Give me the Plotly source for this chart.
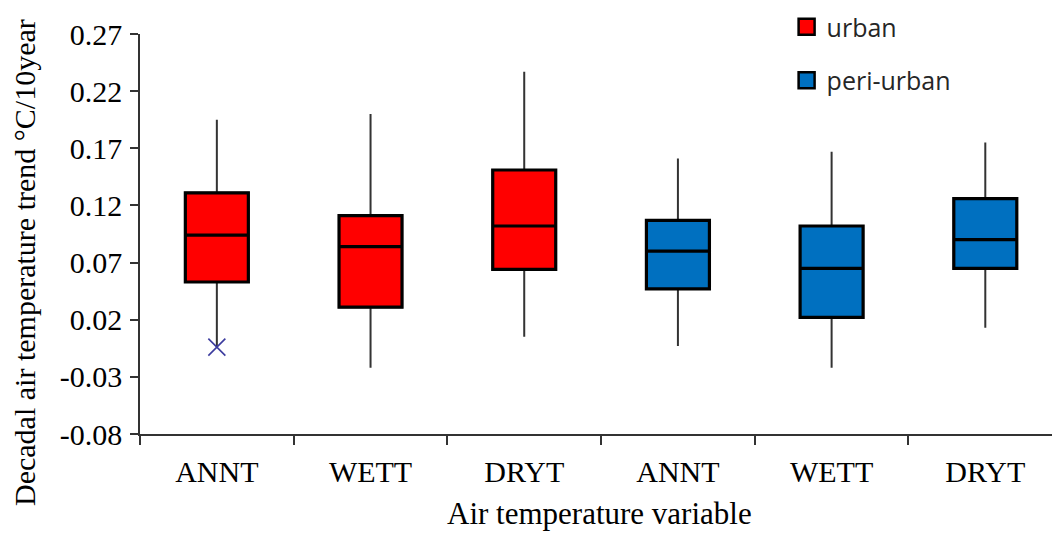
import plotly.graph_objects as go

# ---- data ----
categories = ["ANNT", "WETT", "DRYT", "ANNT", "WETT", "DRYT"]
urban_pos = [0, 1, 2]
peri_pos = [3, 4, 5]

urban_upper = [0.195, 0.200, 0.237]
urban_q3 = [0.131, 0.111, 0.151]
urban_median = [0.094, 0.084, 0.102]
urban_q1 = [0.053, 0.031, 0.064]
urban_lower = [-0.004, -0.022, 0.005]

peri_upper = [0.161, 0.167, 0.175]
peri_q3 = [0.107, 0.102, 0.126]
peri_median = [0.080, 0.065, 0.090]
peri_q1 = [0.047, 0.022, 0.065]
peri_lower = [-0.003, -0.022, 0.013]

outlier_x = [0]
outlier_y = [-0.004]

y_tickvals = [-0.08, -0.03, 0.02, 0.07, 0.12, 0.17, 0.22, 0.27]
y_ticktext = ["-0.08", "-0.03", "0.02", "0.07", "0.12", "0.17", "0.22", "0.27"]

series = [
    ("urban", urban_pos, urban_lower, urban_q1, urban_median, urban_q3, urban_upper, "#FF0000"),
    ("peri-urban", peri_pos, peri_lower, peri_q1, peri_median, peri_q3, peri_upper, "#0070C0"),
]

fig = go.Figure()
BOXW = 0.41
for name, pos, lo, q1, med, q3, up, col in series:
    # whiskers (thin) + filled box
    fig.add_trace(go.Box(
        x=pos, lowerfence=lo, q1=q1, median=med, q3=q3, upperfence=up,
        fillcolor=col, line=dict(color="#333333", width=2), whiskerwidth=0,
        width=BOXW, boxpoints=False, showlegend=False, hoverinfo="skip",
    ))
    # thick box outline on top
    fig.add_trace(go.Box(
        x=pos, lowerfence=q1, q1=q1, median=med, q3=q3, upperfence=q3,
        fillcolor=col, line=dict(color="#000000", width=3.2), whiskerwidth=0,
        width=BOXW, boxpoints=False, showlegend=False, hoverinfo="skip",
    ))
    # legend entry
    fig.add_trace(go.Scatter(
        x=[None], y=[None], mode="markers", name=name, legendgroup=name,
        marker=dict(symbol="square", size=16, color=col, line=dict(color="#000000", width=2.5)),
    ))

fig.add_trace(go.Scatter(
    x=outlier_x, y=outlier_y, mode="markers", showlegend=False, hoverinfo="skip",
    marker=dict(symbol="x-thin", size=17, line=dict(color="#3b3b9e", width=1.6)),
))

serif = "Liberation Serif"
fig.update_layout(
    width=1052, height=533,
    margin=dict(l=140, r=0, t=34, b=99),
    paper_bgcolor="white", plot_bgcolor="white",
    boxmode="overlay",
    showlegend=True,
    legend=dict(x=0.709, y=1.075, xanchor="left", yanchor="top",
                font=dict(family="Open Sans", size=25, color="#262626"),
                tracegroupgap=18, bgcolor="rgba(0,0,0,0)"),
    xaxis=dict(
        range=[-0.5, 5.434], tickvals=[0, 1, 2, 3, 4, 5], ticktext=categories,
        ticks="", showgrid=False, zeroline=False,
        showline=True, linecolor="#333333", linewidth=1.5,
        tickfont=dict(family=serif, size=30, color="#000000"),
        ticklabelstandoff=10,
        minor=dict(tick0=-0.5, dtick=1, ticks="outside", ticklen=9,
                   tickcolor="#333333", tickwidth=1.5, showgrid=False),
    ),
    yaxis=dict(
        range=[-0.08, 0.27], tickvals=y_tickvals, ticktext=y_ticktext,
        ticks="outside", ticklen=8, tickcolor="#333333", tickwidth=1.5,
        showgrid=False, zeroline=False,
        showline=True, linecolor="#333333", linewidth=1.5,
        tickfont=dict(family=serif, size=30, color="#000000"),
        ticklabelstandoff=2,
    ),
    annotations=[
        dict(text="Decadal air temperature trend °C/10year", textangle=-90,
             xref="paper", yref="paper", x=-0.1272, y=0.43,
             xanchor="center", yanchor="middle", showarrow=False,
             font=dict(family=serif, size=30, color="#000000")),
        dict(text="Air temperature variable",
             xref="paper", yref="paper", x=0.504, y=-0.1975,
             xanchor="center", yanchor="middle", showarrow=False,
             font=dict(family=serif, size=31, color="#000000")),
    ],
)

fig.write_html("out.html")
